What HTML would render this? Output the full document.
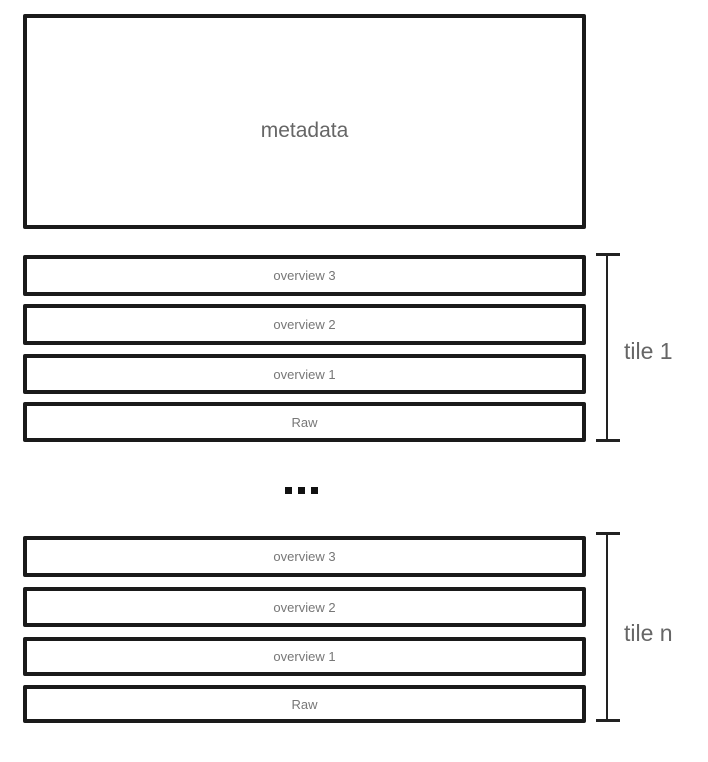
<!DOCTYPE html>
<html><head><meta charset="utf-8"><style>
body{margin:0;width:708px;height:762px;background:#fff;position:relative;overflow:hidden;font-family:"Liberation Sans",sans-serif;}
.b{position:absolute;left:23px;width:555px;border:4px solid #1a1a1a;border-radius:2px;box-sizing:content-box;display:flex;align-items:center;justify-content:center;color:#777;font-size:13px;}
.v{position:absolute;width:2px;background:#222;left:606px;}
.t{position:absolute;height:3px;background:#222;left:596px;width:24px;}
.l{position:absolute;left:624px;font-size:23px;color:#666;}
.d{position:absolute;top:487px;width:7px;height:7px;background:#111;}
</style></head><body>
<div class="b" style="top:14px;height:207px;font-size:21px;color:#666;"><span style="position:relative;top:9px">metadata</span></div>
<div class="b" style="top:255px;height:33px;">overview 3</div>
<div class="b" style="top:304px;height:33px;">overview 2</div>
<div class="b" style="top:354px;height:32px;">overview 1</div>
<div class="b" style="top:402px;height:32px;">Raw</div>
<div class="v" style="top:254px;height:187px;"></div>
<div class="t" style="top:253px;"></div><div class="t" style="top:439px;"></div>
<div class="l" style="top:338px;">tile 1</div>
<div class="d" style="left:285px"></div><div class="d" style="left:298px"></div><div class="d" style="left:311px"></div>
<div class="b" style="top:536px;height:33px;">overview 3</div>
<div class="b" style="top:587px;height:32px;">overview 2</div>
<div class="b" style="top:637px;height:31px;">overview 1</div>
<div class="b" style="top:685px;height:30px;">Raw</div>
<div class="v" style="top:533px;height:188px;"></div>
<div class="t" style="top:532px;"></div><div class="t" style="top:719px;"></div>
<div class="l" style="top:620px;">tile n</div>
</body></html>
